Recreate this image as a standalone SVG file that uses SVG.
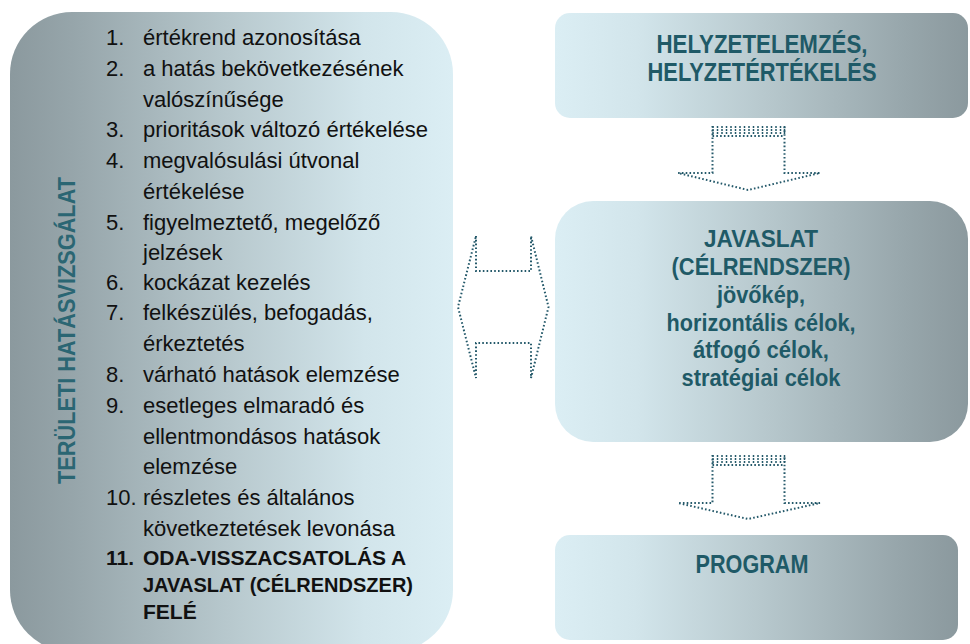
<svg xmlns="http://www.w3.org/2000/svg" width="970" height="644" viewBox="0 0 970 644">
<defs>
<linearGradient id="gL" x1="0" y1="0" x2="1" y2="0">
<stop offset="0" stop-color="#8b999e"/>
<stop offset="0.15" stop-color="#97a6ab"/>
<stop offset="0.5" stop-color="#b8c9ce"/>
<stop offset="0.8" stop-color="#d2e5eb"/>
<stop offset="1" stop-color="#dbeef4"/>
</linearGradient>
<linearGradient id="gR" x1="0" y1="0" x2="1" y2="0">
<stop offset="0" stop-color="#dbeef4"/>
<stop offset="0.2" stop-color="#d2e5eb"/>
<stop offset="0.5" stop-color="#b8c9ce"/>
<stop offset="0.85" stop-color="#97a6ab"/>
<stop offset="1" stop-color="#8b999e"/>
</linearGradient>
<style>
.item{font-family:"Liberation Sans",Arial,sans-serif;font-size:22px;fill:#111}
.bold{font-weight:bold;font-size:21px}
.hd{font-family:"Liberation Sans",Arial,sans-serif;font-weight:bold;fill:#1f5a67;text-anchor:middle}
.dot{fill:none;stroke:#24596a;stroke-width:2;stroke-dasharray:1.6 2.2}
.band{fill:none;stroke:#24596a;stroke-width:1.5;stroke-dasharray:2 1}
</style>
</defs>
<rect width="970" height="644" fill="#ffffff"/>

<g id="panel-teruleti">
<rect x="10" y="12" width="443" height="640" rx="62" ry="62" fill="url(#gL)"/>
<text class="hd" transform="translate(75,330.5) rotate(-90)" font-size="23" textLength="307" lengthAdjust="spacingAndGlyphs" style="fill:#2b6673">TERÜLETI HATÁSVIZSGÁLAT</text>
<g class="item">
<text x="106" y="45">1.</text><text x="143" y="45">értékrend azonosítása</text>
<text x="106" y="76">2.</text><text x="143" y="76">a hatás bekövetkezésének</text>
<text x="143" y="107">valószínűsége</text>
<text x="106" y="137">3.</text><text x="143" y="137">prioritások változó értékelése</text>
<text x="106" y="168">4.</text><text x="143" y="168">megvalósulási útvonal</text>
<text x="143" y="199">értékelése</text>
<text x="106" y="230">5.</text><text x="143" y="230">figyelmeztető, megelőző</text>
<text x="143" y="260">jelzések</text>
<text x="106" y="290">6.</text><text x="143" y="290">kockázat kezelés</text>
<text x="106" y="320">7.</text><text x="143" y="320">felkészülés, befogadás,</text>
<text x="143" y="351">érkeztetés</text>
<text x="106" y="382">8.</text><text x="143" y="382">várható hatások elemzése</text>
<text x="106" y="413">9.</text><text x="143" y="413">esetleges elmaradó és</text>
<text x="143" y="444">ellentmondásos hatások</text>
<text x="143" y="474">elemzése</text>
<text x="106" y="505">10.</text><text x="143" y="505">részletes és általános</text>
<text x="143" y="536">következtetések levonása</text>
<text class="bold" x="106" y="565">11.</text><text class="bold" x="143" y="565">ODA-VISSZACSATOLÁS A</text>
<text class="bold" x="143" y="592" textLength="270" lengthAdjust="spacingAndGlyphs">JAVASLAT (CÉLRENDSZER)</text>
<text class="bold" x="143" y="619">FELÉ</text>
</g>
</g>

<g id="box-helyzet">
<rect x="555" y="13" width="413" height="105" rx="15" ry="15" fill="url(#gR)"/>
<text class="hd" x="762" y="53" font-size="26" textLength="211" lengthAdjust="spacingAndGlyphs">HELYZETELEMZÉS,</text>
<text class="hd" x="762" y="81" font-size="26" textLength="229" lengthAdjust="spacingAndGlyphs">HELYZETÉRTÉKELÉS</text>
</g>

<g id="box-javaslat">
<rect x="555" y="201" width="413" height="241" rx="38" ry="38" fill="url(#gR)"/>
<text class="hd" x="761" y="247" font-size="24" textLength="114" lengthAdjust="spacingAndGlyphs">JAVASLAT</text>
<text class="hd" x="761" y="275" font-size="24" textLength="179" lengthAdjust="spacingAndGlyphs">(CÉLRENDSZER)</text>
<text class="hd" x="761" y="303" font-size="24" textLength="88" lengthAdjust="spacingAndGlyphs">jövőkép,</text>
<text class="hd" x="761" y="331" font-size="24" textLength="189" lengthAdjust="spacingAndGlyphs">horizontális célok,</text>
<text class="hd" x="761" y="358" font-size="24" textLength="136" lengthAdjust="spacingAndGlyphs">átfogó célok,</text>
<text class="hd" x="761" y="386" font-size="24" textLength="159" lengthAdjust="spacingAndGlyphs">stratégiai célok</text>
</g>

<g id="box-program">
<rect x="555" y="535" width="403" height="105" rx="15" ry="15" fill="url(#gR)"/>
<text class="hd" x="752" y="573" font-size="25" textLength="113" lengthAdjust="spacingAndGlyphs">PROGRAM</text>
</g>

<g id="connectors">
<g id="arrow-1">
<path class="dot" d="M712.5,126 V173 H678 L748,190 L820,173 H784.5 V126"/>
<path class="dot" d="M712.5,136 H784.5"/>
<path class="band" d="M713,126V134M717.5,126V134M722,126V134M726.5,126V134M731,126V134M735.5,126V134M740,126V134M744.5,126V134M749,126V134M753.5,126V134M758,126V134M762.5,126V134M767,126V134M771.5,126V134M776,126V134M780.5,126V134M784.5,126V134"/>
</g>
<g id="arrow-2">
<path class="dot" d="M712.5,455 V503 H678 L748,519 L820,503 H784.5 V455"/>
<path class="dot" d="M712.5,465 H784.5"/>
<path class="band" d="M713,455V463M717.5,455V463M722,455V463M726.5,455V463M731,455V463M735.5,455V463M740,455V463M744.5,455V463M749,455V463M753.5,455V463M758,455V463M762.5,455V463M767,455V463M771.5,455V463M776,455V463M780.5,455V463M784.5,455V463"/>
</g>
<g id="arrow-double">
<path class="dot" d="M476,236 V271 H531 V236 L548.5,307 L531,378 V343 H476 V378 L458,307 Z"/>
</g>
</g>
</svg>
